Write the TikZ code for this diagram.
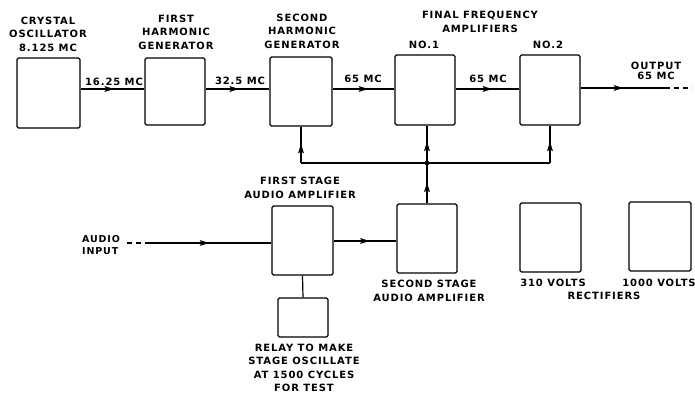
\documentclass[tikz,border=0pt]{standalone}
\usepackage{fontspec}
\setmainfont{DejaVu Sans}[LetterSpace=9]
\usetikzlibrary{decorations.markings}
\begin{document}
\begin{tikzpicture}[x=1pt,y=-1pt,
  blk/.style={draw, line width=1.3pt, rounded corners=1.5pt, inner sep=0pt},
  lbl/.style={font=\fontsize{10}{13.5}\selectfont\bfseries, align=center, inner sep=0pt},
  wire/.style={line width=1.2pt},
  tip/.style={decoration={markings, mark=at position #1 with {\fill (-5pt,-3pt) -- (4.5pt,0pt) -- (-5pt,3pt) -- (-3pt,0pt) -- cycle;}}, postaction={decorate}},
]
\useasboundingbox (0,0) rectangle (695,395);
\fill[white] (0,0) rectangle (695,395);

% boxes
\node[blk, minimum width=63, minimum height=70] (osc) at (48.5,93) {};
\node[blk, minimum width=60, minimum height=67] (h1) at (175,91.5) {};
\node[blk, minimum width=62, minimum height=69] (h2) at (301,91.5) {};
\node[blk, minimum width=60, minimum height=70] (a1) at (425,90) {};
\node[blk, minimum width=60, minimum height=70] (a2) at (550,90) {};
\node[blk, minimum width=61, minimum height=69] (fs) at (302.5,240.5) {};
\node[blk, minimum width=60, minimum height=69] (ss) at (427,238.5) {};
\node[blk, minimum width=61, minimum height=69] (r310) at (550.5,237.5) {};
\node[blk, minimum width=62, minimum height=69] (r1000) at (660,236.5) {};
\node[blk, minimum width=50, minimum height=39] (relay) at (303,317.5) {};

% labels
\node[lbl] (tosc) at (48,34) {CRYSTAL\\OSCILLATOR\\8.125 MC};
\node[lbl] (th1) at (176,32) {FIRST\\HARMONIC\\GENERATOR};
\node[lbl] (th2) at (302,31) {SECOND\\HARMONIC\\GENERATOR};
\node[lbl] (tfin) at (480,22) {FINAL FREQUENCY\\AMPLIFIERS};
\node[lbl] (tno1) at (424,45) {NO.1};
\node[lbl] (tno2) at (548,45) {NO.2};
\node[lbl, font=\fontsize{10}{10.5}\selectfont\bfseries] (tout) at (656,71) {OUTPUT\\65 MC};
\node[lbl] (tfs) at (300,188) {FIRST STAGE\\AUDIO AMPLIFIER};
\node[lbl] (tss) at (429,291) {SECOND STAGE\\AUDIO AMPLIFIER};
\node[lbl] (t310) at (553,283) {310 VOLTS};
\node[lbl] (t1000) at (659,283) {1000 VOLTS};
\node[lbl] (trect) at (604,296) {RECTIFIERS};
\node[lbl] (trelay) at (304,368) {RELAY TO MAKE\\STAGE OSCILLATE\\AT 1500 CYCLES\\FOR TEST};
\node[lbl, align=left, anchor=west, font=\fontsize{9.5}{12}\selectfont\bfseries] (tain) at (82,245) {AUDIO\\INPUT};
\node[lbl] (f1) at (114,81.5) {16.25 MC};
\node[lbl] (f2) at (240,81) {32.5 MC};
\node[lbl] (f3) at (363,78.5) {65 MC};
\node[lbl] (f4) at (488,78.5) {65 MC};

% coordinates
\coordinate (ly) at (0,89);
\coordinate (jy) at (0,163);
\coordinate (outend) at (665,88);
\coordinate (outdash) at (692,88);
\coordinate (ainstart) at (127,243);
\coordinate (ainsolid) at (150,243);
\coordinate (j1) at (ss.north |- jy);

% top chain
\draw[wire, tip=0.45] (osc.east |- ly) -- (h1.west |- ly);
\draw[wire, tip=0.45] (h1.east |- ly) -- (h2.west |- ly);
\draw[wire, tip=0.5] (h2.east |- ly) -- (a1.west |- ly);
\draw[wire, tip=0.5] (a1.east |- ly) -- (a2.west |- ly);
\draw[wire, tip=0.45] (a2.east |- outend) -- (outend);
\draw[wire, dashed, dash pattern=on 5pt off 4pt] (outend) -- (outdash);

% modulation bus
\draw[wire] (h2.south |- jy) -- (a2.south |- jy);
\draw[wire, tip=0.4] (h2.south |- jy) -- (h2.south);
\draw[wire, tip=0.4] (ss.north) -- (j1);
\draw[wire, tip=0.45] (j1) -- (j1 |- a1.south);
\draw[wire, tip=0.45] (a2.south |- jy) -- (a2.south);
\fill (j1) circle (2.4pt);

% audio chain
\draw[wire, dashed, dash pattern=on 5pt off 4pt] (ainstart) -- (ainsolid);
\draw[wire, tip=0.45] (ainsolid) -- (fs.west |- ainsolid);
\draw[wire, tip=0.5] (fs.east |- 0,241) -- (ss.west |- 0,241);
\draw[wire] (fs.south) -- (relay.north);
\end{tikzpicture}
\end{document}
